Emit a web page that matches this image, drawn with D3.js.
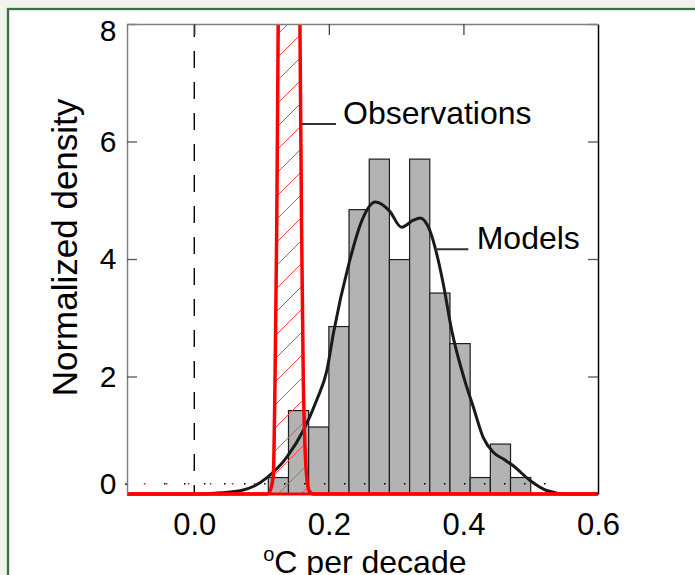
<!DOCTYPE html>
<html>
<head>
<meta charset="utf-8">
<script src="https://cdn.jsdelivr.net/npm/d3@7"></script>
<style>
html, body { margin: 0; padding: 0; background: #f2f3ed; }
svg { display: block; }
text { font-family: "Liberation Sans", Arial, sans-serif; fill: #000; }
</style>
</head>
<body>
<svg id="chart" width="695" height="575"></svg>
<script>
// histogram of model trends (bin edges in degC/decade, normalized density)
const binEdges = [0.11, 0.14, 0.17, 0.20, 0.23, 0.26, 0.29, 0.32, 0.35, 0.38, 0.41, 0.44, 0.47, 0.50];
const binDensity = [0.28, 1.42, 1.14, 2.85, 4.84, 5.70, 3.99, 5.70, 3.42, 2.56, 0.28, 0.85, 0.28];

// smoothed model density
const modelX = [-0.1, 0.00, 0.04, 0.07, 0.09, 0.108, 0.137, 0.162, 0.182, 0.197, 0.207, 0.23, 0.25, 0.269, 0.29, 0.308, 0.3255, 0.3355, 0.35, 0.3615, 0.37, 0.3825, 0.402, 0.4147, 0.4295, 0.4444, 0.46, 0.474, 0.499, 0.5237, 0.553, 0.6];
const modelY = [0, 0, 0.02, 0.06, 0.14, 0.28, 0.62, 1.08, 1.6, 2.1, 2.75, 3.93, 4.68, 4.97, 4.82, 4.54, 4.66, 4.70, 4.49, 4.03, 3.58, 2.79, 1.93, 1.48, 0.96, 0.71, 0.59, 0.48, 0.23, 0.06, 0, 0];

// observed trend density (red curve, runs off the top of the panel)
const obsX = [-0.1, 0.100, 0.108, 0.111, 0.1174, 0.120, 0.1225, 0.1247, 0.127, 0.131, 0.136, 0.141, 0.146, 0.151, 0.155, 0.157, 0.1595, 0.162, 0.167, 0.171, 0.177, 0.185, 0.6];
const obsY = [0, 0, 0, 0.02, 0.3, 1.94, 4.5, 8, 11.5, 20, 30, 34, 30, 20, 11.5, 8, 4.5, 1.94, 0.3, 0.05, 0, 0, 0];

// dotted rug lines drawn at the "0" tick
const obsDots = [-0.075, 0.095];
const modelDots = [-0.045, 0.545];

const xTicks = [0.0, 0.2, 0.4, 0.6];
const xTickLabels = ["0.0", "0.2", "0.4", "0.6"];
const yTicks = [0.175, 2, 4, 6, 8];
const yTickLabels = ["0", "2", "4", "6", "8"];

const margin = { top: 24, right: 97, bottom: 81, left: 127 };
const width = 695 - margin.left - margin.right;
const height = 575 - margin.top - margin.bottom;

const root = d3.select("#chart");

// page frame
root.append("rect")
    .attr("x", 8).attr("y", 9)
    .attr("width", 720).attr("height", 600)
    .attr("fill", "#ffffff")
    .attr("stroke", "#3b7040")
    .attr("stroke-width", 2.3);

const defs = root.append("defs");
defs.append("clipPath").attr("id", "plotClip")
    .append("rect").attr("x", 0).attr("y", 0).attr("width", width).attr("height", height + 3);
const pat = defs.append("pattern").attr("id", "hatch")
    .attr("patternUnits", "userSpaceOnUse")
    .attr("width", 23).attr("height", 23);
pat.append("line")
    .attr("x1", -1).attr("y1", 24).attr("x2", 24).attr("y2", -1)
    .attr("stroke", "#ff4444").attr("stroke-width", 1);

const svg = root.append("g")
    .attr("transform", "translate(" + margin.left + "," + margin.top + ")");

const x = d3.scaleLinear().domain([-0.1, 0.6]).range([0, width]);
const y = d3.scaleLinear().domain([0, 8]).range([height, 0]);

// histogram bars
svg.append("g").selectAll("rect")
    .data(binDensity)
    .join("rect")
    .attr("x", (d, i) => x(binEdges[i]))
    .attr("width", (d, i) => x(binEdges[i + 1]) - x(binEdges[i]))
    .attr("y", d => y(d))
    .attr("height", d => height - y(d))
    .attr("fill", "#b3b3b3")
    .attr("stroke", "#1e1e1e")
    .attr("stroke-width", 1.2);

// dotted lines at the zero tick
svg.append("line")
    .attr("x1", x(modelDots[0])).attr("x2", x(modelDots[1]))
    .attr("y1", y(yTicks[0])).attr("y2", y(yTicks[0]))
    .attr("stroke", "#000").attr("stroke-width", 1.5)
    .attr("stroke-dasharray", "1.5 18.5");
svg.append("line")
    .attr("x1", x(obsDots[0])).attr("x2", x(obsDots[1]))
    .attr("y1", y(yTicks[0])).attr("y2", y(yTicks[0]))
    .attr("stroke", "#ff0000").attr("stroke-width", 1.5)
    .attr("stroke-dasharray", "1.5 20.5");

// dashed zero line
svg.append("line")
    .attr("x1", x(0)).attr("x2", x(0))
    .attr("y1", 0).attr("y2", height)
    .attr("stroke", "#000").attr("stroke-width", 1.4)
    .attr("stroke-dasharray", "17 14")
    .attr("stroke-dashoffset", 4);

const plot = svg.append("g").attr("clip-path", "url(#plotClip)");

const modelPts = modelX.map((v, i) => [v, modelY[i]]);
const obsPts = obsX.map((v, i) => [v, obsY[i]]);

plot.append("path")
    .datum(modelPts)
    .attr("fill", "none")
    .attr("stroke", "#1a1a1a")
    .attr("stroke-width", 3)
    .attr("d", d3.line().curve(d3.curveMonotoneX)
        .x(d => x(d[0])).y(d => y(d[1])));

plot.append("path")
    .datum(obsPts)
    .attr("fill", "url(#hatch)")
    .attr("d", d3.area().curve(d3.curveMonotoneX)
        .x(d => x(d[0])).y0(y(0)).y1(d => y(d[1])));

plot.append("path")
    .datum(obsPts)
    .attr("fill", "none")
    .attr("stroke", "#ff0000")
    .attr("stroke-width", 3.5)
    .attr("d", d3.line().curve(d3.curveMonotoneX)
        .x(d => x(d[0])).y(d => y(d[1])));

// axes
const yAxis = svg.append("g")
    .call(d3.axisLeft(y).tickValues(yTicks)
        .tickFormat((d, i) => yTickLabels[i])
        .tickSizeInner(-10).tickSizeOuter(0));
yAxis.select(".domain").attr("stroke", "#808080").attr("stroke-width", 1.5);
yAxis.selectAll(".tick line").attr("stroke", "#555").attr("stroke-width", 1.3)
    .filter((d, i) => i === 0).attr("x2", -2).attr("stroke", "#000");
yAxis.selectAll(".tick text")
    .attr("x", -10.5)
    .attr("font-size", 30)
    .attr("font-family", "Liberation Sans, Arial, sans-serif");
// top label sits a little lower than its tick, as in the original
yAxis.selectAll(".tick text").filter(d => d === 8).attr("y", 7);

const rAxis = svg.append("g")
    .attr("transform", "translate(" + width + ",0)")
    .call(d3.axisRight(y).tickValues([2, 4, 6, 8])
        .tickFormat("").tickSizeInner(-10).tickSizeOuter(0));
rAxis.select(".domain").attr("stroke", "#000").attr("stroke-width", 1.5);
rAxis.selectAll(".tick line").attr("stroke", "#555").attr("stroke-width", 1.3);

const tAxis = svg.append("g")
    .call(d3.axisTop(x).tickValues([0, 0.2, 0.4])
        .tickFormat("").tickSizeInner(-11).tickSizeOuter(0));
tAxis.select(".domain").attr("stroke", "#808080").attr("stroke-width", 1.5);
tAxis.selectAll(".tick line").attr("stroke", "#444").attr("stroke-width", 1.3);

const xAxis = svg.append("g")
    .attr("transform", "translate(0," + height + ")")
    .call(d3.axisBottom(x).tickValues(xTicks)
        .tickFormat((d, i) => xTickLabels[i])
        .tickSizeInner(0).tickSizeOuter(0));
xAxis.select(".domain").remove();
xAxis.selectAll(".tick text")
    .attr("y", 41).attr("dy", 0)
    .attr("font-size", 31)
    .attr("font-family", "Liberation Sans, Arial, sans-serif");

// redraw red zero line over the bottom edge
plot.append("line")
    .attr("x1", 0).attr("x2", width)
    .attr("y1", y(0)).attr("y2", y(0))
    .attr("stroke", "#ff0000").attr("stroke-width", 3);

// annotations
const labels = [
    { text: "Observations", x0: 0.1597, x1: 0.2106, tx: 0.2210, v: 6.30 },
    { text: "Models", x0: 0.3577, x1: 0.4072, tx: 0.4197, v: 4.165 }
];
labels.forEach(l => {
    svg.append("line")
        .attr("x1", x(l.x0)).attr("x2", x(l.x1))
        .attr("y1", y(l.v)).attr("y2", y(l.v))
        .attr("stroke", "#333").attr("stroke-width", 2);
    svg.append("text")
        .attr("x", x(l.tx)).attr("y", y(l.v))
        .attr("font-size", 32)
        .text(l.text);
});

// axis titles
svg.append("text")
    .attr("transform", "translate(-50,223.5) rotate(-90)")
    .attr("text-anchor", "middle")
    .attr("font-size", 35)
    .text("Normalized density");

const xt = svg.append("text")
    .attr("x", x(0.2535)).attr("y", height + 79)
    .attr("text-anchor", "middle")
    .attr("font-size", 32);
xt.append("tspan").attr("font-size", 20).attr("dy", -12).text("o");
xt.append("tspan").attr("dy", 12).text("C per decade");
</script>
</body>
</html>
